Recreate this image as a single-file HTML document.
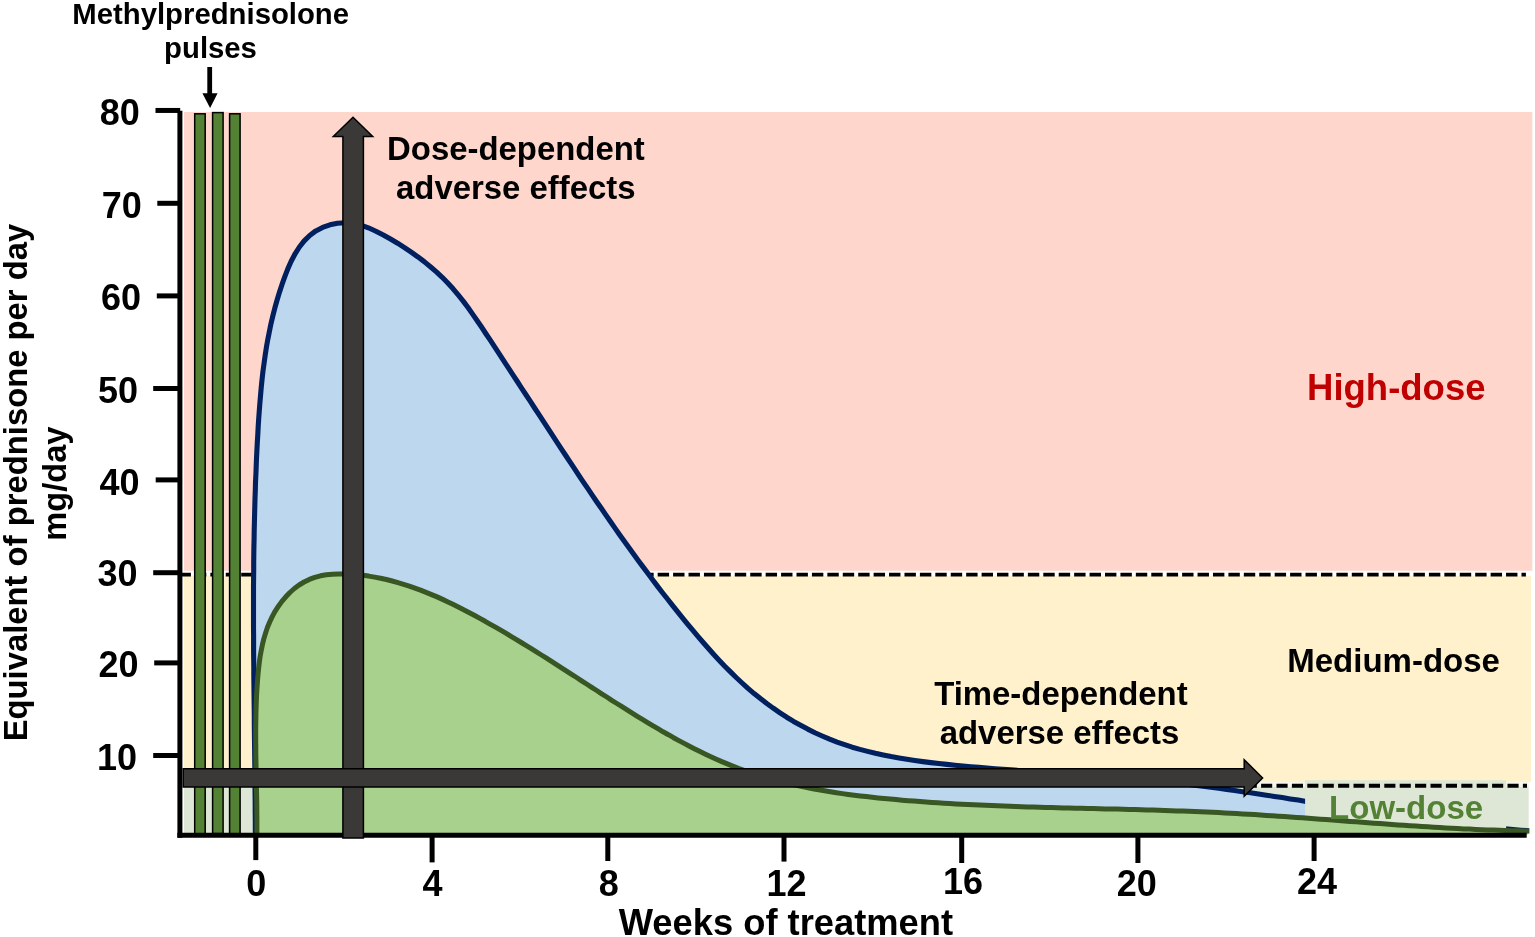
<!DOCTYPE html>
<html>
<head>
<meta charset="utf-8">
<title>Glucocorticoid dose and adverse effects</title>
<style>
html,body{margin:0;padding:0;background:#fff;}
body{width:1535px;height:937px;overflow:hidden;}
svg{display:block;position:absolute;left:0;top:0;}
text{font-family:"Liberation Sans",sans-serif;font-weight:bold;fill:#000;}
</style>
</head>
<body>
<svg width="1535" height="937" viewBox="0 0 1535 937">
<rect x="0" y="0" width="1535" height="937" fill="#ffffff"/>

<!-- dose zones -->
<g id="zones">
<rect x="184" y="112" width="1348.3" height="458.8" fill="#fed6cc"/>
<rect x="184" y="575.7" width="1347.1" height="206.3" fill="#fff1cc"/>
<rect x="184" y="781.9" width="1344.7" height="5" fill="#f6f7ec"/>
<rect x="184" y="786.8" width="1344.7" height="46.2" fill="#dee7d6"/>
</g>

<!-- dashed threshold lines -->
<g id="thresholds" stroke="#000" stroke-width="3.9" fill="none">
<line x1="179.5" y1="574.6" x2="1525.9" y2="574.6" stroke-dasharray="11.4 4.025"/>
<line x1="1245.7" y1="785.7" x2="1527" y2="785.7" stroke-width="4" stroke-dasharray="11.1 4.3"/>
</g>

<!-- high-dose regimen curve (blue) -->
<g id="curve-high">
<path id="blue" d="M255.4,835.8 L255.3,827.9 L255.3,819.9 L255.2,811.9 L255.2,803.9 L255.1,796.0 L255.0,788.0 L255.0,779.9 L254.9,771.9 L254.8,763.9 L254.7,755.9 L254.6,747.9 L254.5,739.9 L254.4,731.8 L254.3,723.8 L254.3,715.7 L254.2,707.7 L254.1,699.7 L254.0,691.6 L253.9,683.6 L253.8,675.5 L253.8,667.4 L253.7,659.4 L253.6,651.3 L253.6,643.3 L253.6,635.2 L253.5,627.2 L253.5,619.1 L253.5,611.1 L253.5,603.0 L253.5,594.9 L253.5,586.9 L253.6,578.8 L253.7,570.8 L253.7,562.7 L253.8,554.7 L253.9,546.6 L254.1,538.6 L254.2,530.6 L254.4,522.5 L254.6,514.5 L254.8,506.5 L255.0,498.5 L255.3,490.4 L255.5,482.4 L255.9,474.4 L256.2,466.4 L256.5,458.4 L256.9,450.5 L257.3,442.5 L257.8,434.5 L258.2,426.5 L258.7,418.6 L259.3,410.6 L259.9,402.7 L260.6,394.7 L261.3,386.8 L262.1,378.9 L263.0,371.0 L264.1,363.1 L265.2,355.2 L266.4,347.3 L267.8,339.4 L269.4,331.5 L271.0,323.6 L272.9,315.7 L274.9,307.8 L277.1,300.0 L279.5,292.1 L282.1,284.2 L284.9,276.4 L287.9,268.6 L291.3,261.0 L295.1,253.8 L299.4,247.0 L304.2,240.9 L309.7,235.5 L315.8,230.9 L322.6,227.4 L329.9,224.8 L337.5,223.2 L345.3,222.8 L353.1,223.4 L360.8,225.2 L368.4,227.8 L375.9,231.2 L383.3,235.0 L390.5,239.0 L397.6,243.2 L404.5,247.6 L411.2,252.1 L417.8,256.8 L424.2,261.6 L430.4,266.7 L436.4,271.9 L442.2,277.3 L447.8,283.0 L453.1,288.8 L458.2,294.9 L463.2,301.1 L468.0,307.5 L472.6,314.1 L477.2,320.7 L481.7,327.3 L486.1,334.0 L490.6,340.7 L495.0,347.4 L499.4,354.1 L503.8,360.8 L508.2,367.6 L512.6,374.3 L517.0,381.0 L521.4,387.8 L525.8,394.5 L530.2,401.2 L534.6,408.0 L539.0,414.7 L543.4,421.4 L547.8,428.2 L552.2,434.9 L556.6,441.6 L561.0,448.3 L565.4,455.0 L569.8,461.7 L574.3,468.4 L578.7,475.1 L583.2,481.8 L587.7,488.4 L592.2,495.1 L596.7,501.7 L601.3,508.3 L605.8,514.9 L610.4,521.5 L615.0,528.1 L619.6,534.7 L624.3,541.2 L629.0,547.7 L633.7,554.2 L638.4,560.7 L643.2,567.1 L648.0,573.6 L652.8,580.0 L657.6,586.4 L662.5,592.7 L667.5,599.0 L672.5,605.3 L677.5,611.6 L682.5,617.8 L687.6,624.1 L692.7,630.2 L697.9,636.4 L703.2,642.5 L708.5,648.5 L713.8,654.5 L719.3,660.4 L724.8,666.2 L730.5,671.9 L736.2,677.5 L742.1,683.0 L748.0,688.4 L754.1,693.6 L760.4,698.6 L766.8,703.5 L773.3,708.2 L780.0,712.8 L786.7,717.2 L793.6,721.4 L800.6,725.3 L807.7,729.1 L814.9,732.7 L822.2,736.0 L829.6,739.2 L837.1,742.1 L844.6,744.7 L852.2,747.2 L859.9,749.4 L867.6,751.4 L875.4,753.3 L883.2,755.0 L891.1,756.6 L899.0,758.0 L906.9,759.3 L914.9,760.5 L922.9,761.6 L930.9,762.6 L938.9,763.5 L946.9,764.4 L954.9,765.2 L962.9,766.0 L970.9,766.7 L978.9,767.4 L986.9,768.1 L995.0,768.7 L1003.0,769.3 L1011.0,769.9 L1019.0,770.5 L1027.0,771.0 L1035.0,771.6 L1043.0,772.1 L1051.0,772.6 L1059.1,773.1 L1067.1,773.7 L1075.1,774.2 L1083.1,774.7 L1091.1,775.3 L1099.1,775.9 L1107.1,776.4 L1115.1,777.1 L1123.1,777.7 L1131.1,778.4 L1139.0,779.1 L1147.0,779.8 L1155.0,780.6 L1163.0,781.5 L1171.0,782.3 L1178.9,783.2 L1186.9,784.2 L1194.8,785.2 L1202.8,786.2 L1210.8,787.2 L1218.7,788.3 L1226.7,789.4 L1234.6,790.5 L1242.6,791.7 L1250.5,792.8 L1258.5,794.0 L1266.4,795.2 L1274.4,796.4 L1282.3,797.6 L1290.2,798.9 L1298.2,800.1 L1306.1,801.4 L1314.1,802.6 L1322.0,803.9 L1329.9,805.1 L1337.9,806.4 L1345.8,807.7 L1353.8,808.9 L1361.7,810.1 L1369.7,811.4 L1377.6,812.6 L1385.5,813.8 L1393.5,815.0 L1401.4,816.2 L1409.4,817.3 L1417.4,818.4 L1425.3,819.5 L1433.3,820.6 L1441.2,821.7 L1449.2,822.7 L1457.2,823.7 L1465.1,824.6 L1473.1,825.5 L1481.1,826.4 L1489.1,827.3 L1497.0,828.1 L1505.0,828.8 L1513.0,829.5 L1521.0,830.2 L1529.0,830.8 L1527,835 L255.4,835 Z" fill="#bdd7ee" stroke="none"/>
<path id="blue-line" d="M255.4,835.8 L255.3,827.9 L255.3,819.9 L255.2,811.9 L255.2,803.9 L255.1,796.0 L255.0,788.0 L255.0,779.9 L254.9,771.9 L254.8,763.9 L254.7,755.9 L254.6,747.9 L254.5,739.9 L254.4,731.8 L254.3,723.8 L254.3,715.7 L254.2,707.7 L254.1,699.7 L254.0,691.6 L253.9,683.6 L253.8,675.5 L253.8,667.4 L253.7,659.4 L253.6,651.3 L253.6,643.3 L253.6,635.2 L253.5,627.2 L253.5,619.1 L253.5,611.1 L253.5,603.0 L253.5,594.9 L253.5,586.9 L253.6,578.8 L253.7,570.8 L253.7,562.7 L253.8,554.7 L253.9,546.6 L254.1,538.6 L254.2,530.6 L254.4,522.5 L254.6,514.5 L254.8,506.5 L255.0,498.5 L255.3,490.4 L255.5,482.4 L255.9,474.4 L256.2,466.4 L256.5,458.4 L256.9,450.5 L257.3,442.5 L257.8,434.5 L258.2,426.5 L258.7,418.6 L259.3,410.6 L259.9,402.7 L260.6,394.7 L261.3,386.8 L262.1,378.9 L263.0,371.0 L264.1,363.1 L265.2,355.2 L266.4,347.3 L267.8,339.4 L269.4,331.5 L271.0,323.6 L272.9,315.7 L274.9,307.8 L277.1,300.0 L279.5,292.1 L282.1,284.2 L284.9,276.4 L287.9,268.6 L291.3,261.0 L295.1,253.8 L299.4,247.0 L304.2,240.9 L309.7,235.5 L315.8,230.9 L322.6,227.4 L329.9,224.8 L337.5,223.2 L345.3,222.8 L353.1,223.4 L360.8,225.2 L368.4,227.8 L375.9,231.2 L383.3,235.0 L390.5,239.0 L397.6,243.2 L404.5,247.6 L411.2,252.1 L417.8,256.8 L424.2,261.6 L430.4,266.7 L436.4,271.9 L442.2,277.3 L447.8,283.0 L453.1,288.8 L458.2,294.9 L463.2,301.1 L468.0,307.5 L472.6,314.1 L477.2,320.7 L481.7,327.3 L486.1,334.0 L490.6,340.7 L495.0,347.4 L499.4,354.1 L503.8,360.8 L508.2,367.6 L512.6,374.3 L517.0,381.0 L521.4,387.8 L525.8,394.5 L530.2,401.2 L534.6,408.0 L539.0,414.7 L543.4,421.4 L547.8,428.2 L552.2,434.9 L556.6,441.6 L561.0,448.3 L565.4,455.0 L569.8,461.7 L574.3,468.4 L578.7,475.1 L583.2,481.8 L587.7,488.4 L592.2,495.1 L596.7,501.7 L601.3,508.3 L605.8,514.9 L610.4,521.5 L615.0,528.1 L619.6,534.7 L624.3,541.2 L629.0,547.7 L633.7,554.2 L638.4,560.7 L643.2,567.1 L648.0,573.6 L652.8,580.0 L657.6,586.4 L662.5,592.7 L667.5,599.0 L672.5,605.3 L677.5,611.6 L682.5,617.8 L687.6,624.1 L692.7,630.2 L697.9,636.4 L703.2,642.5 L708.5,648.5 L713.8,654.5 L719.3,660.4 L724.8,666.2 L730.5,671.9 L736.2,677.5 L742.1,683.0 L748.0,688.4 L754.1,693.6 L760.4,698.6 L766.8,703.5 L773.3,708.2 L780.0,712.8 L786.7,717.2 L793.6,721.4 L800.6,725.3 L807.7,729.1 L814.9,732.7 L822.2,736.0 L829.6,739.2 L837.1,742.1 L844.6,744.7 L852.2,747.2 L859.9,749.4 L867.6,751.4 L875.4,753.3 L883.2,755.0 L891.1,756.6 L899.0,758.0 L906.9,759.3 L914.9,760.5 L922.9,761.6 L930.9,762.6 L938.9,763.5 L946.9,764.4 L954.9,765.2 L962.9,766.0 L970.9,766.7 L978.9,767.4 L986.9,768.1 L995.0,768.7 L1003.0,769.3 L1011.0,769.9 L1019.0,770.5 L1027.0,771.0 L1035.0,771.6 L1043.0,772.1 L1051.0,772.6 L1059.1,773.1 L1067.1,773.7 L1075.1,774.2 L1083.1,774.7 L1091.1,775.3 L1099.1,775.9 L1107.1,776.4 L1115.1,777.1 L1123.1,777.7 L1131.1,778.4 L1139.0,779.1 L1147.0,779.8 L1155.0,780.6 L1163.0,781.5 L1171.0,782.3 L1178.9,783.2 L1186.9,784.2 L1194.8,785.2 L1202.8,786.2 L1210.8,787.2 L1218.7,788.3 L1226.7,789.4 L1234.6,790.5 L1242.6,791.7 L1250.5,792.8 L1258.5,794.0 L1266.4,795.2 L1274.4,796.4 L1282.3,797.6 L1290.2,798.9 L1298.2,800.1 L1306.1,801.4 L1314.1,802.6 L1322.0,803.9 L1329.9,805.1 L1337.9,806.4 L1345.8,807.7 L1353.8,808.9 L1361.7,810.1 L1369.7,811.4 L1377.6,812.6 L1385.5,813.8 L1393.5,815.0 L1401.4,816.2 L1409.4,817.3 L1417.4,818.4 L1425.3,819.5 L1433.3,820.6 L1441.2,821.7 L1449.2,822.7 L1457.2,823.7 L1465.1,824.6 L1473.1,825.5 L1481.1,826.4 L1489.1,827.3 L1497.0,828.1 L1505.0,828.8 L1513.0,829.5 L1521.0,830.2 L1529.0,830.8" fill="none" stroke="#002060" stroke-width="5.1" stroke-linejoin="round"/>
</g>

<!-- low-dose label box -->
<rect x="1305.1" y="780.2" width="201" height="52.8" fill="#dee7d6"/>
<line x1="1307.3" y1="785.7" x2="1506.5" y2="785.7" stroke="#000" stroke-width="4" stroke-dasharray="11.1 4.3"/>

<!-- low-dose regimen curve (green) -->
<g id="curve-low">
<path id="green" d="M256.9,836.1 L256.9,830.0 L256.9,824.0 L256.9,817.9 L256.8,811.9 L256.8,805.9 L256.7,799.9 L256.6,794.0 L256.4,788.0 L256.3,782.0 L256.2,776.1 L256.1,770.1 L256.0,764.2 L255.9,758.2 L255.8,752.3 L255.8,746.3 L255.7,740.4 L255.7,734.4 L255.7,728.5 L255.8,722.5 L255.9,716.6 L256.0,710.6 L256.2,704.6 L256.4,698.6 L256.7,692.6 L257.1,686.6 L257.5,680.6 L258.0,674.6 L258.6,668.5 L259.3,662.5 L260.1,656.6 L261.2,650.6 L262.4,644.7 L263.8,638.9 L265.5,633.2 L267.4,627.5 L269.7,622.0 L272.2,616.6 L275.1,611.3 L278.4,606.2 L281.9,601.4 L285.8,596.8 L289.9,592.5 L294.4,588.5 L299.1,585.0 L304.1,582.0 L309.3,579.4 L314.8,577.4 L320.5,575.8 L326.3,574.8 L332.3,574.2 L338.4,573.9 L344.5,573.9 L350.6,574.2 L356.7,574.6 L362.7,575.3 L368.7,576.1 L374.6,577.1 L380.5,578.2 L386.4,579.5 L392.2,581.0 L397.9,582.6 L403.6,584.3 L409.3,586.1 L414.9,588.1 L420.5,590.1 L426.1,592.3 L431.6,594.6 L437.1,596.9 L442.6,599.4 L448.0,601.9 L453.4,604.5 L458.8,607.2 L464.1,609.9 L469.4,612.7 L474.7,615.5 L479.9,618.4 L485.2,621.3 L490.4,624.3 L495.5,627.2 L500.7,630.2 L505.8,633.2 L511.0,636.3 L516.1,639.4 L521.2,642.5 L526.3,645.6 L531.3,648.7 L536.4,651.9 L541.4,655.0 L546.5,658.2 L551.5,661.4 L556.5,664.6 L561.5,667.8 L566.6,671.1 L571.6,674.3 L576.6,677.5 L581.6,680.8 L586.6,684.0 L591.7,687.3 L596.7,690.5 L601.7,693.8 L606.8,697.0 L611.8,700.3 L616.9,703.5 L622.0,706.7 L627.1,709.9 L632.2,713.1 L637.3,716.3 L642.4,719.4 L647.6,722.6 L652.7,725.7 L657.9,728.7 L663.1,731.8 L668.4,734.7 L673.6,737.7 L678.9,740.6 L684.2,743.4 L689.5,746.2 L694.8,748.9 L700.1,751.6 L705.5,754.2 L710.9,756.7 L716.4,759.2 L721.8,761.6 L727.3,763.9 L732.8,766.1 L738.4,768.3 L743.9,770.3 L749.5,772.3 L755.2,774.1 L760.8,775.9 L766.5,777.7 L772.2,779.3 L778.0,780.8 L783.7,782.3 L789.5,783.7 L795.3,785.1 L801.1,786.3 L807.0,787.5 L812.8,788.7 L818.7,789.8 L824.6,790.8 L830.5,791.8 L836.4,792.7 L842.4,793.6 L848.3,794.4 L854.3,795.2 L860.2,795.9 L866.2,796.6 L872.1,797.3 L878.1,797.9 L884.1,798.5 L890.1,799.1 L896.1,799.6 L902.1,800.2 L908.0,800.7 L914.0,801.1 L920.0,801.6 L926.0,802.0 L932.0,802.4 L937.9,802.8 L943.9,803.2 L949.9,803.5 L955.9,803.9 L961.9,804.2 L967.8,804.5 L973.8,804.8 L979.8,805.1 L985.8,805.3 L991.7,805.6 L997.7,805.8 L1003.7,806.1 L1009.7,806.3 L1015.7,806.5 L1021.6,806.7 L1027.6,806.9 L1033.6,807.0 L1039.6,807.2 L1045.5,807.4 L1051.5,807.5 L1057.5,807.7 L1063.5,807.9 L1069.4,808.0 L1075.4,808.2 L1081.4,808.3 L1087.3,808.4 L1093.3,808.6 L1099.3,808.7 L1105.3,808.9 L1111.2,809.0 L1117.2,809.1 L1123.2,809.3 L1129.2,809.4 L1135.1,809.6 L1141.1,809.8 L1147.1,809.9 L1153.0,810.1 L1159.0,810.3 L1165.0,810.5 L1171.0,810.7 L1176.9,810.9 L1182.9,811.1 L1188.9,811.3 L1194.9,811.5 L1200.8,811.8 L1206.8,812.0 L1212.8,812.3 L1218.7,812.6 L1224.7,812.9 L1230.7,813.2 L1236.7,813.5 L1242.6,813.9 L1248.6,814.2 L1254.6,814.6 L1260.6,815.0 L1266.5,815.4 L1272.5,815.8 L1278.5,816.2 L1284.5,816.6 L1290.4,817.0 L1296.4,817.4 L1302.4,817.8 L1308.4,818.3 L1314.3,818.7 L1320.3,819.2 L1326.3,819.6 L1332.3,820.1 L1338.2,820.5 L1344.2,820.9 L1350.2,821.4 L1356.2,821.8 L1362.1,822.3 L1368.1,822.7 L1374.1,823.2 L1380.1,823.6 L1386.0,824.0 L1392.0,824.5 L1398.0,824.9 L1404.0,825.3 L1409.9,825.7 L1415.9,826.1 L1421.9,826.5 L1427.9,826.8 L1433.8,827.2 L1439.8,827.6 L1445.8,827.9 L1451.8,828.2 L1457.7,828.6 L1463.7,828.9 L1469.7,829.1 L1475.6,829.4 L1481.6,829.7 L1487.6,829.9 L1493.6,830.1 L1499.5,830.3 L1505.5,830.5 L1511.5,830.7 L1517.4,830.8 L1523.4,830.9 L1529.4,831.0 L1527,835 L256.9,835 Z" fill="#a9d18e" stroke="none"/>
<path id="green-line" d="M256.9,836.1 L256.9,830.0 L256.9,824.0 L256.9,817.9 L256.8,811.9 L256.8,805.9 L256.7,799.9 L256.6,794.0 L256.4,788.0 L256.3,782.0 L256.2,776.1 L256.1,770.1 L256.0,764.2 L255.9,758.2 L255.8,752.3 L255.8,746.3 L255.7,740.4 L255.7,734.4 L255.7,728.5 L255.8,722.5 L255.9,716.6 L256.0,710.6 L256.2,704.6 L256.4,698.6 L256.7,692.6 L257.1,686.6 L257.5,680.6 L258.0,674.6 L258.6,668.5 L259.3,662.5 L260.1,656.6 L261.2,650.6 L262.4,644.7 L263.8,638.9 L265.5,633.2 L267.4,627.5 L269.7,622.0 L272.2,616.6 L275.1,611.3 L278.4,606.2 L281.9,601.4 L285.8,596.8 L289.9,592.5 L294.4,588.5 L299.1,585.0 L304.1,582.0 L309.3,579.4 L314.8,577.4 L320.5,575.8 L326.3,574.8 L332.3,574.2 L338.4,573.9 L344.5,573.9 L350.6,574.2 L356.7,574.6 L362.7,575.3 L368.7,576.1 L374.6,577.1 L380.5,578.2 L386.4,579.5 L392.2,581.0 L397.9,582.6 L403.6,584.3 L409.3,586.1 L414.9,588.1 L420.5,590.1 L426.1,592.3 L431.6,594.6 L437.1,596.9 L442.6,599.4 L448.0,601.9 L453.4,604.5 L458.8,607.2 L464.1,609.9 L469.4,612.7 L474.7,615.5 L479.9,618.4 L485.2,621.3 L490.4,624.3 L495.5,627.2 L500.7,630.2 L505.8,633.2 L511.0,636.3 L516.1,639.4 L521.2,642.5 L526.3,645.6 L531.3,648.7 L536.4,651.9 L541.4,655.0 L546.5,658.2 L551.5,661.4 L556.5,664.6 L561.5,667.8 L566.6,671.1 L571.6,674.3 L576.6,677.5 L581.6,680.8 L586.6,684.0 L591.7,687.3 L596.7,690.5 L601.7,693.8 L606.8,697.0 L611.8,700.3 L616.9,703.5 L622.0,706.7 L627.1,709.9 L632.2,713.1 L637.3,716.3 L642.4,719.4 L647.6,722.6 L652.7,725.7 L657.9,728.7 L663.1,731.8 L668.4,734.7 L673.6,737.7 L678.9,740.6 L684.2,743.4 L689.5,746.2 L694.8,748.9 L700.1,751.6 L705.5,754.2 L710.9,756.7 L716.4,759.2 L721.8,761.6 L727.3,763.9 L732.8,766.1 L738.4,768.3 L743.9,770.3 L749.5,772.3 L755.2,774.1 L760.8,775.9 L766.5,777.7 L772.2,779.3 L778.0,780.8 L783.7,782.3 L789.5,783.7 L795.3,785.1 L801.1,786.3 L807.0,787.5 L812.8,788.7 L818.7,789.8 L824.6,790.8 L830.5,791.8 L836.4,792.7 L842.4,793.6 L848.3,794.4 L854.3,795.2 L860.2,795.9 L866.2,796.6 L872.1,797.3 L878.1,797.9 L884.1,798.5 L890.1,799.1 L896.1,799.6 L902.1,800.2 L908.0,800.7 L914.0,801.1 L920.0,801.6 L926.0,802.0 L932.0,802.4 L937.9,802.8 L943.9,803.2 L949.9,803.5 L955.9,803.9 L961.9,804.2 L967.8,804.5 L973.8,804.8 L979.8,805.1 L985.8,805.3 L991.7,805.6 L997.7,805.8 L1003.7,806.1 L1009.7,806.3 L1015.7,806.5 L1021.6,806.7 L1027.6,806.9 L1033.6,807.0 L1039.6,807.2 L1045.5,807.4 L1051.5,807.5 L1057.5,807.7 L1063.5,807.9 L1069.4,808.0 L1075.4,808.2 L1081.4,808.3 L1087.3,808.4 L1093.3,808.6 L1099.3,808.7 L1105.3,808.9 L1111.2,809.0 L1117.2,809.1 L1123.2,809.3 L1129.2,809.4 L1135.1,809.6 L1141.1,809.8 L1147.1,809.9 L1153.0,810.1 L1159.0,810.3 L1165.0,810.5 L1171.0,810.7 L1176.9,810.9 L1182.9,811.1 L1188.9,811.3 L1194.9,811.5 L1200.8,811.8 L1206.8,812.0 L1212.8,812.3 L1218.7,812.6 L1224.7,812.9 L1230.7,813.2 L1236.7,813.5 L1242.6,813.9 L1248.6,814.2 L1254.6,814.6 L1260.6,815.0 L1266.5,815.4 L1272.5,815.8 L1278.5,816.2 L1284.5,816.6 L1290.4,817.0 L1296.4,817.4 L1302.4,817.8 L1308.4,818.3 L1314.3,818.7 L1320.3,819.2 L1326.3,819.6 L1332.3,820.1 L1338.2,820.5 L1344.2,820.9 L1350.2,821.4 L1356.2,821.8 L1362.1,822.3 L1368.1,822.7 L1374.1,823.2 L1380.1,823.6 L1386.0,824.0 L1392.0,824.5 L1398.0,824.9 L1404.0,825.3 L1409.9,825.7 L1415.9,826.1 L1421.9,826.5 L1427.9,826.8 L1433.8,827.2 L1439.8,827.6 L1445.8,827.9 L1451.8,828.2 L1457.7,828.6 L1463.7,828.9 L1469.7,829.1 L1475.6,829.4 L1481.6,829.7 L1487.6,829.9 L1493.6,830.1 L1499.5,830.3 L1505.5,830.5 L1511.5,830.7 L1517.4,830.8 L1523.4,830.9 L1529.4,831.0" fill="none" stroke="#385723" stroke-width="5" stroke-linejoin="round"/>
</g>

<!-- methylprednisolone pulse bars -->
<g id="pulses" fill="#548235" stroke="#000" stroke-width="1.5">
<rect x="194.7" y="113.8" width="10.5" height="720"/>
<rect x="212.6" y="112.6" width="10.5" height="721"/>
<rect x="229.6" y="113.8" width="10.5" height="720"/>
</g>

<!-- axes -->
<g id="axes" stroke="#000" stroke-width="5" fill="none">
<line x1="179.9" y1="110.7" x2="179.9" y2="837.7"/>
<line x1="177.4" y1="835.25" x2="1526.7" y2="835.25"/>
<line x1="155.5" y1="110.45" x2="180.2" y2="110.45"/>
<line x1="157.3" y1="203.3" x2="180.2" y2="203.3"/>
<line x1="156.8" y1="295.9" x2="180.2" y2="295.9"/>
<line x1="153.2" y1="388.5" x2="180.2" y2="388.5"/>
<line x1="155.7" y1="479.9" x2="180.2" y2="479.9"/>
<line x1="153.2" y1="572.7" x2="180.2" y2="572.7"/>
<line x1="154.2" y1="662.9" x2="180.2" y2="662.9"/>
<line x1="153.2" y1="755.5" x2="180.2" y2="755.5"/>
<line x1="255.8" y1="835" x2="255.8" y2="860.1"/>
<line x1="432.1" y1="835" x2="432.1" y2="862.4"/>
<line x1="607.8" y1="835" x2="607.8" y2="861"/>
<line x1="784" y1="835" x2="784" y2="861.6"/>
<line x1="961.7" y1="835" x2="961.7" y2="863"/>
<line x1="1137.9" y1="835" x2="1137.9" y2="863"/>
<line x1="1314.1" y1="835" x2="1314.1" y2="861"/>
</g>

<!-- big arrows -->
<g id="arrows" fill="#3b3838" stroke="#000" stroke-width="1.5" stroke-linejoin="miter">
<path d="M353,117.3 L372.7,136.4 L363.4,136.4 L363.4,837.9 L342.9,837.9 L342.9,136.4 L333.3,136.4 Z"/>
<path d="M183.2,768.7 L1244.2,768.7 L1244.2,759.7 L1262.6,777.95 L1244.2,796.2 L1244.2,787 L183.2,787 Z"/>
</g>

<!-- small pointer arrow -->
<g id="pointer">
<line x1="209.7" y1="67" x2="209.7" y2="96" stroke="#000" stroke-width="4.8"/>
<path d="M202.4,93.2 L217.6,93.2 L210.1,108 Z" fill="#000"/>
</g>

<!-- text labels -->
<g id="labels">
<text x="210.7" y="24.2" font-size="29.3" text-anchor="middle">Methylprednisolone</text>
<text x="210.5" y="58.4" font-size="29.3" text-anchor="middle">pulses</text>

<text x="119.7" y="125.1" font-size="36" text-anchor="middle">80</text>
<text x="121.7" y="217.8" font-size="36" text-anchor="middle">70</text>
<text x="121.1" y="310.4" font-size="36" text-anchor="middle">60</text>
<text x="118" y="403" font-size="36" text-anchor="middle">50</text>
<text x="119.4" y="494.6" font-size="36" text-anchor="middle">40</text>
<text x="117.5" y="586.3" font-size="36" text-anchor="middle">30</text>
<text x="118.6" y="677.1" font-size="36" text-anchor="middle">20</text>
<text x="117" y="769.8" font-size="36" text-anchor="middle">10</text>

<text x="256.2" y="895.6" font-size="36" text-anchor="middle">0</text>
<text x="432.5" y="895.6" font-size="36" text-anchor="middle">4</text>
<text x="608.8" y="895.6" font-size="36" text-anchor="middle">8</text>
<text x="786.5" y="895.6" font-size="36" text-anchor="middle">12</text>
<text x="963" y="894.3" font-size="36" text-anchor="middle">16</text>
<text x="1136.8" y="895.6" font-size="36" text-anchor="middle">20</text>
<text x="1317" y="894.3" font-size="36" text-anchor="middle">24</text>

<text x="785.9" y="934.5" font-size="36.35" text-anchor="middle">Weeks of treatment</text>

<text transform="translate(26.8,482.55) rotate(-90)" font-size="32.8" text-anchor="middle">Equivalent of prednisone per day</text>
<text transform="translate(65.7,483.6) rotate(-90)" font-size="32.6" text-anchor="middle">mg/day</text>

<text x="515.9" y="160.2" font-size="32.9" text-anchor="middle">Dose-dependent</text>
<text x="515.8" y="199.1" font-size="32.9" text-anchor="middle">adverse effects</text>

<text x="1060.9" y="704.6" font-size="32.9" text-anchor="middle">Time-dependent</text>
<text x="1059.5" y="743.6" font-size="32.9" text-anchor="middle">adverse effects</text>

<text x="1396.3" y="400" font-size="36.5" text-anchor="middle" style="fill:#c00000">High-dose</text>
<text x="1393.6" y="671.6" font-size="33" text-anchor="middle">Medium-dose</text>
<text x="1406.1" y="818.6" font-size="33" text-anchor="middle" style="fill:#548235">Low-dose</text>
</g>
</svg>
</body>
</html>
